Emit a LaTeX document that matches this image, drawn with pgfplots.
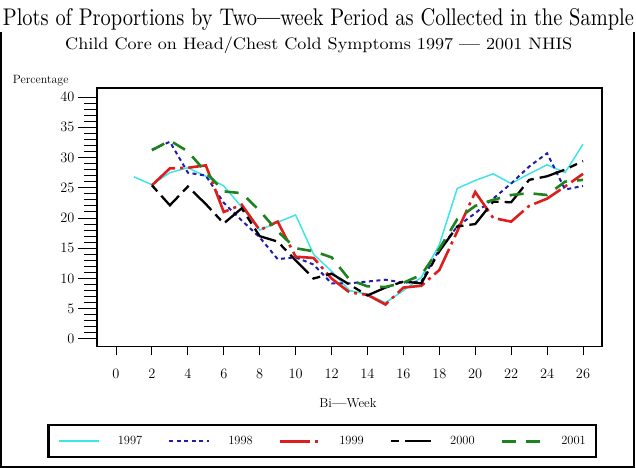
\documentclass[border=0pt]{standalone}
\usepackage{pgfplots}
\pgfplotsset{compat=1.18}
\definecolor{c97}{RGB}{64,228,228}
\definecolor{c98}{RGB}{30,30,170}
\definecolor{c99}{RGB}{220,30,30}
\definecolor{c01}{RGB}{30,130,30}
\begin{document}
\begin{tikzpicture}
\begin{axis}[
  name=ax,
  at={(0bp,0bp)}, anchor=south west, scale only axis,
  width=505bp, height=258.5bp,
  xmin=-1.058, xmax=27.058, ymin=-1.24, ymax=41.49,
  xtick={0,2,...,26}, ytick={0,5,...,40}, minor y tick num=4,
  xtick pos=bottom, ytick pos=left, tick align=outside,
  major tick length=19bp, minor tick length=13bp,
  xtick style={/pgfplots/major tick length=9bp},
  axis line style={line width=1.2bp},
  every tick/.style={line width=1bp, black},
  ticklabel style={font=\fontsize{14bp}{16bp}\selectfont},
  xlabel={Bi{\bfseries---}Week},
  xlabel style={at={(axis description cs:0.497,-0.2197)}, anchor=center, font=\fontsize{13bp}{15bp}\selectfont},
  legend columns=5,
  legend image code/.code={\draw[#1] (0bp,0bp) -- (40bp,0bp);},
  legend style={at={(axis description cs:-0.099,-0.2998)}, anchor=north west,
    draw=black, line width=2.5bp, inner xsep=10bp, inner ysep=11bp,
    font=\fontsize{12.5bp}{14bp}\selectfont,
    nodes={inner sep=0pt},
    /tikz/every odd column/.append style={column sep=18bp},
    /tikz/every even column/.append style={column sep=26bp}},
]
\addplot[c97, line width=1.5bp] coordinates {(1,26.8)(2,25.5)(3,27.5)(4,28.3)(5,26.9)(6,25.3)(7,21.8)(8,18.0)(9,19.3)(10,20.5)(11,14.0)(12,11.2)(13,8.0)(14,7.4)(15,6.0)(16,8.0)(17,10.2)(18,15.6)(19,24.9)(20,26.2)(21,27.3)(22,25.7)(23,27.3)(24,28.8)(25,27.5)(26,32.2)};
\addlegendentry{1997}
\addplot[c98, line width=2bp, dash pattern=on 4bp off 3.5bp] coordinates {(2,31.3)(3,32.6)(4,27.5)(5,27.0)(6,22.5)(7,19.6)(8,16.8)(9,13.2)(10,13.5)(11,12.3)(12,9.2)(13,9.2)(14,9.5)(15,9.8)(16,9.3)(17,9.5)(18,14.8)(19,18.6)(20,20.8)(21,23.2)(22,25.7)(23,28.5)(24,30.7)(25,24.7)(26,25.3)};
\addlegendentry{1998}
\addplot[c99, line width=2.6bp, dash pattern=on 30bp off 5bp on 3bp off 5bp] coordinates {(2,25.4)(3,28.2)(4,28.3)(5,28.7)(6,21.0)(7,22.2)(8,18.0)(9,19.4)(10,13.6)(11,13.4)(12,10.0)(13,7.7)(14,7.3)(15,5.7)(16,8.5)(17,8.8)(18,11.4)(19,17.8)(20,24.3)(21,20.0)(22,19.4)(23,22.0)(24,23.2)(25,25.2)(26,27.3)};
\addlegendentry{1999}
\addplot[black, line width=2.3bp, dash pattern=on 8bp off 6bp on 26bp off 6bp] coordinates {(2,25.4)(3,22.1)(4,25.2)(5,22.3)(6,19.1)(7,21.6)(8,17.0)(9,16.1)(10,13.0)(11,10.0)(12,10.8)(13,9.0)(14,7.2)(15,8.5)(16,9.5)(17,9.2)(18,14.5)(19,18.6)(20,19.0)(21,22.7)(22,22.6)(23,26.3)(24,26.9)(25,28.0)(26,29.4)};
\addlegendentry{2000}
\addplot[c01, line width=2.6bp, dash pattern=on 14bp off 10bp] coordinates {(2,31.2)(3,32.8)(4,31.0)(5,27.6)(6,24.4)(7,24.1)(8,21.2)(9,17.8)(10,15.0)(11,14.5)(12,13.5)(13,9.8)(14,8.7)(15,8.6)(16,9.3)(17,10.6)(18,14.9)(19,19.8)(20,22.0)(21,23.0)(22,23.8)(23,24.1)(24,23.8)(25,26.0)(26,26.3)};
\addlegendentry{2001}
\end{axis}
\begin{scope}[shift={(ax.south west)}, shift={(-97bp,-121.5bp)}, x=1bp, y=1bp]
\pgfresetboundingbox
\useasboundingbox (0,0) rectangle (636,468);
\draw[line width=1.3bp] (1,436) -- (1,1) -- (634,1) -- (634,436);
\node[anchor=base west, inner sep=0pt] at (2.7,442) {\resizebox{631bp}{17bp}{Plots of Proportions by Two{\bfseries---}week Period as Collected in the Sample}};
\node[anchor=base west, inner sep=0pt] at (65,418.7) {\resizebox{507bp}{12.5bp}{Child Core on Head/Chest Cold Symptoms 1997 \textbf{---} 2001 NHIS}};
\node[anchor=base west, inner sep=0pt, font=\fontsize{12bp}{14bp}\selectfont] at (12.7,384.7) {Percentage};
\end{scope}
\end{tikzpicture}
\end{document}
